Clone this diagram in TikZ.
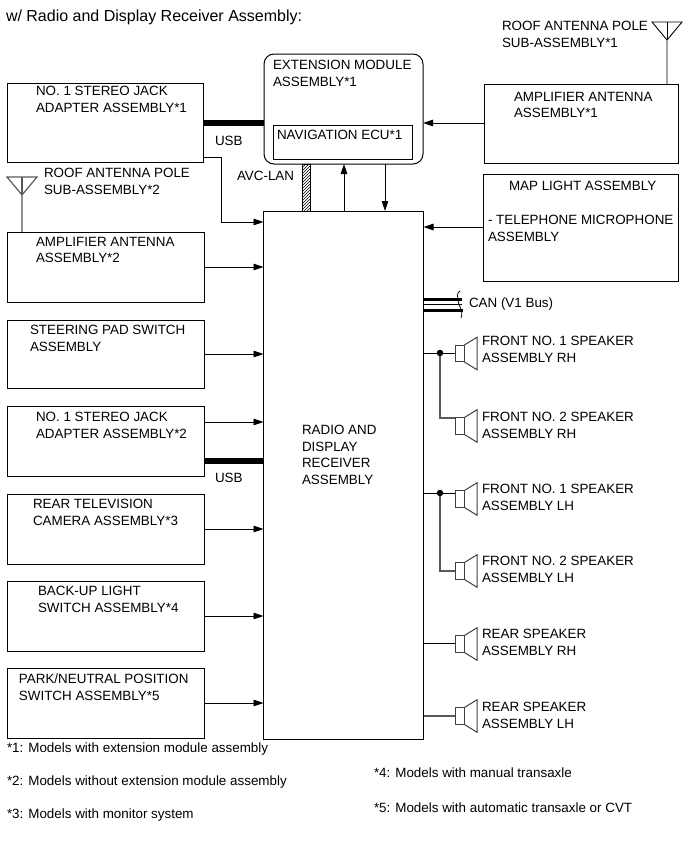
\documentclass[tikz,border=0pt]{standalone}
\usepackage{fontspec}
\setmainfont{Liberation Sans}
\usetikzlibrary{arrows.meta,patterns,calc}
\tikzset{
  x=1pt,y=-1pt,
  blk/.style={draw,line width=1pt,anchor=north west,inner sep=0pt,outer sep=0pt},
  lbl/.style={anchor=north west,inner sep=0pt,outer sep=0pt,align=left,font=\fontsize{13.4}{16.7}\selectfont},
  note/.style={anchor=west,inner sep=0pt,outer sep=0pt,font=\fontsize{13.4}{15}\selectfont},
  sig/.style={line width=0.9pt,-{Triangle[length=10pt,width=6.5pt]}},
  wire/.style={line width=0.9pt},
  gwire/.style={line width=1.2pt,black!65},
  usbbus/.style={line width=6pt},
  spk/.style={draw,black!75,line width=1pt,minimum width=9pt,minimum height=16.5pt,inner sep=0pt,outer sep=0pt},
  junction/.style={circle,fill=black,minimum size=6.5pt,inner sep=0pt},
}
% Speaker symbol: box with a flared cone to its right
\newcommand{\speaker}[3]{%
  \node[spk] (#1) at (#2,#3) {};
  \draw[black!75,line width=1pt] (#1.north east) -- ++(13,-8) -- ++(0,32.5) -- (#1.south east);
}
% Antenna symbol on top of its mast
\newcommand{\antenna}[5]{%
  \coordinate (#1) at (#2,#3);
  \draw[#5] (#1) -- ++(0,-#4) -- ++(-15,-18) -- ++(30,0) -- ++(-15,18);
  \draw[#5] (#1) ++(0,-#4) -- ++(0,-18);
}
\begin{document}
\begin{tikzpicture}
\useasboundingbox (0,0) rectangle (689,854);
\node[note,font=\fontsize{16}{18}\selectfont] (title) at (6,17) {w/ Radio and Display Receiver Assembly:};

% left column
\node[blk,minimum width=196pt,minimum height=79pt] (jack1) at (7,83) {};
\node[blk,minimum width=197pt,minimum height=70pt] (amp2) at (7,232) {};
\node[blk,minimum width=197pt,minimum height=68pt] (steer) at (7,320) {};
\node[blk,minimum width=197pt,minimum height=70pt] (jack2) at (7,406) {};
\node[blk,minimum width=197pt,minimum height=70pt] (cam) at (7,494) {};
\node[blk,minimum width=197pt,minimum height=70pt] (backup) at (7,581) {};
\node[blk,minimum width=197pt,minimum height=70pt] (park) at (7,668) {};

% centre
\node[blk,minimum width=159pt,minimum height=110pt,rounded corners=10pt] (ext) at (264,54) {};
\node[blk,minimum width=139pt,minimum height=34pt] (nav) at (273,125) {};
\node[blk,minimum width=160pt,minimum height=528pt] (radio) at (263.5,211) {};

% right column
\node[blk,minimum width=194pt,minimum height=79pt] (amp1) at (484,84) {};
\node[blk,minimum width=195pt,minimum height=107pt] (map) at (483,174) {};

% labels
\node[lbl] (tjack1) at (36,86) {NO. 1 STEREO JACK\\ADAPTER ASSEMBLY*1};
\node[lbl] (troof2) at (44,168) {ROOF ANTENNA POLE\\SUB-ASSEMBLY*2};
\node[lbl] (tamp2) at (36,237) {AMPLIFIER ANTENNA\\ASSEMBLY*2};
\node[lbl] (tsteer) at (30,325) {STEERING PAD SWITCH\\ASSEMBLY};
\node[lbl] (tjack2) at (36,412) {NO. 1 STEREO JACK\\ADAPTER ASSEMBLY*2};
\node[lbl] (tcam) at (33,499) {REAR TELEVISION\\CAMERA ASSEMBLY*3};
\node[lbl] (tbackup) at (38,586) {BACK-UP LIGHT\\SWITCH ASSEMBLY*4};
\node[lbl] (tpark) at (19,674) {PARK/NEUTRAL POSITION\\SWITCH ASSEMBLY*5};
\node[lbl] (text) at (273,60) {EXTENSION MODULE\\ASSEMBLY*1};
\node[lbl] (tnav) at (277,130) {NAVIGATION ECU*1};
\node[lbl] (troof1) at (502,21) {ROOF ANTENNA POLE\\SUB-ASSEMBLY*1};
\node[lbl] (tamp1) at (514,92) {AMPLIFIER ANTENNA\\ASSEMBLY*1};
\node[lbl] (tmap) at (509,181) {MAP LIGHT ASSEMBLY};
\node[lbl] (tmic) at (488,215) {- TELEPHONE MICROPHONE\\ASSEMBLY};
\node[lbl] (tradio) at (302,425) {RADIO AND\\DISPLAY\\RECEIVER\\ASSEMBLY};
\node[lbl] (tusb1) at (215,136) {USB};
\node[lbl] (tusb2) at (215,473) {USB};
\node[lbl] (tavc) at (237,171) {AVC-LAN};
\node[lbl] (tcan) at (469,298) {CAN (V1 Bus)};

% antennas
\antenna{ant1}{667}{84}{44}{line width=0.9pt}
\antenna{ant2}{22}{232}{37}{gwire}

% buses and signal lines
\draw[usbbus] (jack1.east |- 0,123) -- (ext.west |- 0,123);
\draw[usbbus] (jack2.east |- 0,461) -- (radio.west |- 0,461);
\draw[sig] (jack1.east |- 0,157) -- (221,157) |- (radio.west |- 0,222);
\draw[sig] (amp2.east |- 0,267) -- (radio.west |- 0,267);
\draw[sig] (steer.east |- 0,354) -- (radio.west |- 0,354);
\draw[sig] (jack2.east |- 0,422) -- (radio.west |- 0,422);
\draw[sig] (cam.east |- 0,529) -- (radio.west |- 0,529);
\draw[sig] (backup.east |- 0,616) -- (radio.west |- 0,616);
\draw[sig] (park.east |- 0,703) -- (radio.west |- 0,703);
\draw[sig] (amp1.west |- 0,123) -- (ext.east |- 0,123);
\draw[sig] (map.west |- 0,227) -- (radio.east |- 0,227);
\draw[sig] (radio.north -| 344,0) -- (ext.south -| 344,0);
\draw[sig] (ext.south -| 385,0) -- (radio.north -| 385,0);

% AVC-LAN twisted pair
\path (ext.south -| 302,0) coordinate (avca) (radio.north -| 310,0) coordinate (avcb);
\draw[line width=0.8pt,pattern=north east lines] (avca) rectangle (avcb);

% CAN bus
\draw[line width=2.6pt] (radio.east |- 0,299.5) -- (462,299.5);
\draw[line width=1pt] (radio.east |- 0,304.5) -- (462,304.5);
\draw[line width=3pt] (radio.east |- 0,310) -- (463,310);
\draw[line width=0.8pt] (460,291) .. controls (456,293) and (458,297) .. (458,300) .. controls (458,306) and (464,310) .. (461,318);

% speakers
\speaker{s1}{459.5}{353.5}
\speaker{s2}{459.5}{426}
\speaker{s3}{459.5}{499}
\speaker{s4}{459.5}{571}
\speaker{s5}{459.5}{644}
\speaker{s6}{459.5}{716}
\node[junction] (j1) at (440,353) {};
\node[junction] (j2) at (440,493) {};
\draw[wire] (radio.east |- 0,353) -- (s1.west |- 0,353);
\draw[wire] (radio.east |- 0,493) -- (s3.west |- 0,493);
\draw[wire] (radio.east |- 0,643) -- (s5.west |- 0,643);
\draw[gwire] (radio.east |- 0,716) -- (s6.west);
\draw[gwire] (j1) |- (s2.west |- 0,418);
\draw[gwire] (j2) |- (s4.west);

\node[lbl] (ts1) at (482,336) {FRONT NO. 1 SPEAKER\\ASSEMBLY RH};
\node[lbl] (ts2) at (482,412) {FRONT NO. 2 SPEAKER\\ASSEMBLY RH};
\node[lbl] (ts3) at (482,484) {FRONT NO. 1 SPEAKER\\ASSEMBLY LH};
\node[lbl] (ts4) at (482,556) {FRONT NO. 2 SPEAKER\\ASSEMBLY LH};
\node[lbl] (ts5) at (482,629) {REAR SPEAKER\\ASSEMBLY RH};
\node[lbl] (ts6) at (482,702) {REAR SPEAKER\\ASSEMBLY LH};

% footnotes
\node[note] (n1) at (7,749) {*1: Models with extension module assembly};
\node[note] (n2) at (7,782) {*2: Models without extension module assembly};
\node[note] (n3) at (7,815) {*3: Models with monitor system};
\node[note] (n4) at (374,773) {*4: Models with manual transaxle};
\node[note] (n5) at (374,808) {*5: Models with automatic transaxle or CVT};
\end{tikzpicture}
\end{document}
